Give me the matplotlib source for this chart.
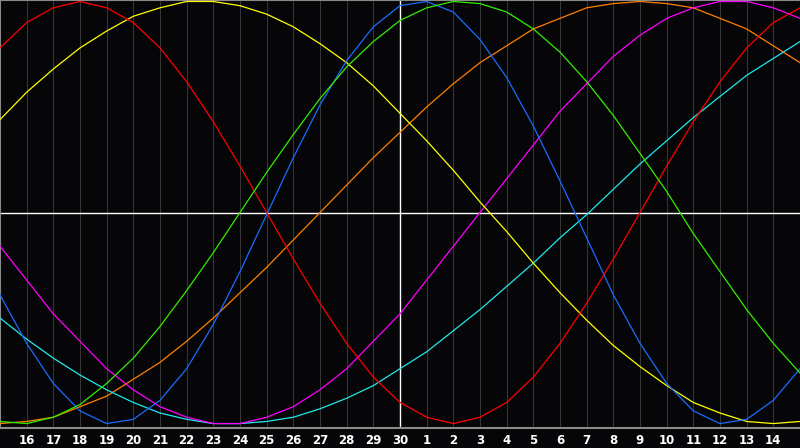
import matplotlib
matplotlib.use("Agg")
import matplotlib.pyplot as plt

# day labels along the bottom (index 0 = the 15th, left edge, not labelled)
days = [15, 16, 17, 18, 19, 20, 21, 22, 23, 24, 25, 26, 27, 28, 29, 30,
        1, 2, 3, 4, 5, 6, 7, 8, 9, 10, 11, 12, 13, 14, 15]

# cycle values in percent, one per day
physical = [-39, -62, -81, -94, -100, -98, -89, -74, -53, -28, -1, 26, 51, 72, 88, 98,
            100, 95, 82, 64, 41, 15, -12, -39, -62, -81, -94, -100, -98, -89, -74]
emotional = [78, 90, 97, 100, 97, 90, 78, 62, 43, 22, 0, -22, -43, -62, -78, -90,
             -97, -100, -97, -90, -78, -62, -43, -22, 0, 22, 43, 62, 78, 90, 97]
intellectual = [-99, -100, -97, -91, -81, -69, -54, -37, -19, 0, 19, 37, 54, 69, 81, 91,
                97, 100, 99, 95, 87, 76, 62, 46, 28, 10, -10, -28, -46, -62, -76]
intuitive = [-16, -32, -48, -61, -74, -84, -92, -97, -100, -100, -97, -92, -84, -74, -61, -48,
             -32, -16, 0, 16, 32, 48, 61, 74, 84, 92, 97, 100, 100, 97, 92]
aesthetic = [44, 57, 68, 78, 86, 93, 97, 100, 100, 98, 94, 88, 80, 71, 60, 47,
             34, 20, 5, -9, -24, -38, -51, -63, -73, -82, -90, -95, -99, -100, -99]
awareness = [-100, -99, -97, -92, -87, -79, -71, -61, -50, -38, -26, -13, 0, 13, 26, 38,
             50, 61, 71, 79, 87, 92, 97, 99, 100, 99, 97, 92, 87, 79, 71]
spiritual = [-50, -60, -69, -77, -84, -90, -95, -98, -100, -100, -99, -97, -93, -88, -82, -74,
             -66, -56, -46, -35, -24, -12, -1, 11, 23, 34, 45, 55, 65, 73, 81]

series = [
    (awareness, "#ff8000"),
    (spiritual, "#22e8e8"),
    (intuitive, "#ff00ff"),
    (aesthetic, "#ffff00"),
    (physical, "#1a6cff"),
    (emotional, "#ff0000"),
    (intellectual, "#33ee00"),
]

bg = "#060609"
fig = plt.figure(figsize=(8, 4.48), dpi=100, facecolor=bg)
ax = fig.add_axes([0, 20 / 448, 1, 428 / 448])
ax.set_facecolor(bg)

x = list(range(len(days)))

# day grid, 1px
for k in x[1:-1]:
    ax.axvline(k, color="#363636", lw=0.72, zorder=1)

# today / zero lines
ax.axvline(15, color="white", lw=1.0, zorder=2)
ax.axhline(0, color="white", lw=1.0, zorder=2)

for vals, col in series:
    ax.plot(x, vals, color=col, lw=0.9, zorder=3)

ax.set_xlim(0, 30)
ax.set_ylim(-102.1, 100.7)

ax.set_yticks([])
ax.set_xticks(x[1:-1])
ax.set_xticklabels([str(d) for d in days[1:-1]], color="white",
                   fontsize=8.5, fontweight="bold", fontfamily="DejaVu Sans")
ax.tick_params(axis="x", length=0, pad=4)

for side in ["left", "top", "bottom"]:
    ax.spines[side].set_color("#8a8a8a")
    ax.spines[side].set_linewidth(1.5)
ax.spines["right"].set_visible(False)

fig.savefig("out.png", dpi=100, facecolor=bg)
